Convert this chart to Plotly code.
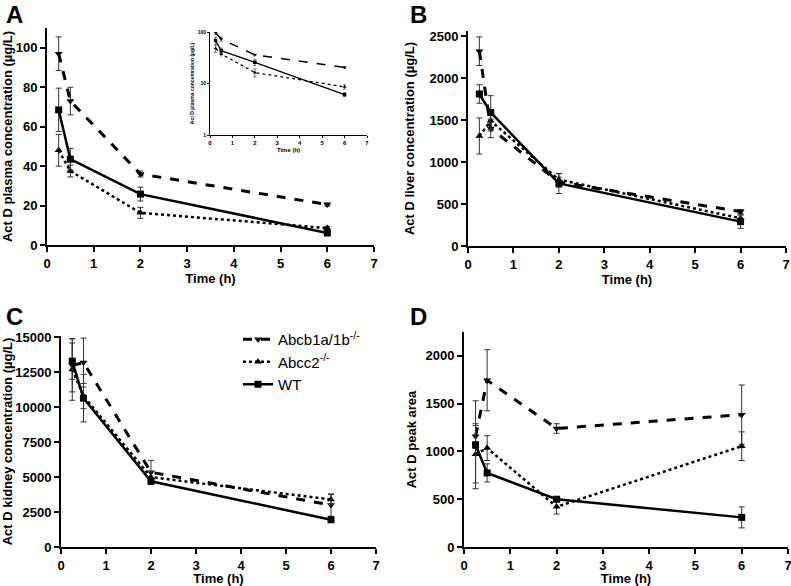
import plotly.graph_objects as go

W, H = 791, 586
FIG_W = 791
X_END = 7

time_h = [0.25, 0.5, 2, 6]
series_names = ["Abcb1a/1b<sup>-/-</sup>", "Abcc2<sup>-/-</sup>", "WT"]

plasma_abcb1 = [97, 73, 36, 20.5]
plasma_abcb1_err = [8.5, 7, 1.5, 0.8]
plasma_abcc2 = [48, 37.5, 16.3, 8.6]
plasma_abcc2_err = [8, 3, 2.8, 0.8]
plasma_wt = [68.5, 43.5, 25.8, 6.1]
plasma_wt_err = [11, 5.5, 3.5, 0.5]

liver_abcb1 = [2320, 1400, 760, 410]
liver_abcb1_err = [170, 110, 60, 25]
liver_abcc2 = [1310, 1490, 790, 330]
liver_abcc2_err = [215, 120, 70, 40]
liver_wt = [1810, 1590, 745, 290]
liver_wt_err = [110, 200, 120, 80]

kidney_abcb1 = [13000, 13200, 5350, 3000]
kidney_abcb1_err = [1900, 1750, 850, 800]
kidney_abcc2 = [12700, 10800, 5000, 3400]
kidney_abcc2_err = [2200, 900, 400, 350]
kidney_wt = [13300, 10650, 4700, 1950]
kidney_wt_err = [1300, 1700, 200, 100]

peak_abcb1 = [1160, 1745, 1240, 1385]
peak_abcb1_err = [130, 320, 50, 310]
peak_abcc2 = [970, 1035, 420, 1055]
peak_abcc2_err = [300, 130, 75, 150]
peak_wt = [1070, 775, 500, 310]
peak_wt_err = [460, 95, 20, 110]

plasma_ticks = [0, 20, 40, 60, 80, 100]
liver_ticks = [0, 500, 1000, 1500, 2000, 2500]
kidney_ticks = [0, 2500, 5000, 7500, 10000, 12500, 15000]
peak_ticks = [0, 500, 1000, 1500, 2000]
inset_ticks = [1, 10, 100]
time_ticks = [0, 1, 2, 3, 4, 5, 6, 7]

styles = [
    dict(dash="dash", symbol="triangle-down", width=3),
    dict(dash="dot", symbol="triangle-up", width=2.5),
    dict(dash="solid", symbol="square", width=2.5),
]

FONT = "Arial, Liberation Sans, sans-serif"

fig = go.Figure()

def add_panel(xa, ya, data, show_legend=False, scale=1.0, errw=3):
    for i, (vals, errs) in enumerate(data):
        st = styles[i]
        fig.add_trace(go.Scatter(
            x=time_h, y=vals, xaxis=xa, yaxis=ya,
            mode="lines+markers", name=series_names[i],
            showlegend=show_legend,
            line=dict(color="black", dash=st["dash"], width=st["width"] * scale),
            marker=dict(symbol=st["symbol"], size=7 * scale, color="black"),
            error_y=dict(type="data", array=errs, visible=True, color="#333",
                         thickness=1 * max(scale, 0.6), width=errw),
        ))

add_panel("x", "y", [(plasma_abcb1, plasma_abcb1_err), (plasma_abcc2, plasma_abcc2_err), (plasma_wt, plasma_wt_err)])
add_panel("x2", "y2", [(liver_abcb1, liver_abcb1_err), (liver_abcc2, liver_abcc2_err), (liver_wt, liver_wt_err)])
add_panel("x3", "y3", [(kidney_abcb1, kidney_abcb1_err), (kidney_abcc2, kidney_abcc2_err), (kidney_wt, kidney_wt_err)], show_legend=True)
add_panel("x4", "y4", [(peak_abcb1, peak_abcb1_err), (peak_abcc2, peak_abcc2_err), (peak_wt, peak_wt_err)])
add_panel("x5", "y5", [(plasma_abcb1, plasma_abcb1_err), (plasma_abcc2, plasma_abcc2_err), (plasma_wt, plasma_wt_err)], scale=0.5, errw=1.5)

def px_dom_x(a, b7):
    b = a + (b7 - a) * X_END / 7
    return [a / FIG_W, min(b / FIG_W, 1.0)]

def px_dom_y(top, bottom):
    return [1 - bottom / H, 1 - top / H]

def xaxis(dom, anchor, fs=13, tl=5, lw=2, standoff=4):
    return dict(domain=dom, anchor=anchor, range=[0, X_END], tickvals=time_ticks,
                ticktext=[str(v) for v in time_ticks],
                automargin=False, ticklabeloverflow="allow",
                showline=True, linecolor="black", linewidth=lw, ticks="outside",
                ticklen=tl, tickwidth=lw, tickcolor="black", showgrid=False, zeroline=False,
                tickfont=dict(family=FONT, size=fs, color="black", weight="bold"),
                title=dict(text="Time (h)", font=dict(family=FONT, size=fs, color="black", weight="bold"),
                           standoff=standoff))

def yaxis(dom, anchor, rng, tickvals, title, fs=13, standoff=6, tl=5, lw=2, log=False):
    d = dict(domain=dom, anchor=anchor, range=rng, tickvals=tickvals,
             ticktext=[str(v) for v in tickvals], automargin=False, ticklabeloverflow="allow",
             showline=True, linecolor="black", linewidth=lw, ticks="outside",
             ticklen=tl, tickwidth=lw, tickcolor="black", showgrid=False, zeroline=False,
             tickfont=dict(family=FONT, size=fs, color="black", weight="bold"),
             title=dict(text=title, font=dict(family=FONT, size=fs, color="black", weight="bold"),
                        standoff=standoff))
    if log:
        d["type"] = "log"
    return d

fig.update_layout(
    width=FIG_W, height=H, margin=dict(l=0, r=0, t=0, b=0),
    plot_bgcolor="white", paper_bgcolor="white",
    font=dict(family=FONT, color="black"),
    xaxis=xaxis(px_dom_x(47, 374), "y"),
    yaxis=yaxis(px_dom_y(28, 245), "x", [0, 110], plasma_ticks,
                "Act D plasma concentration (µg/L)", standoff=1),
    xaxis2=xaxis(px_dom_x(468, 786), "y2"),
    yaxis2=yaxis(px_dom_y(31, 246), "x2", [0, 2560], liver_ticks,
                 "Act D liver concentration (µg/L)", standoff=12),
    xaxis3=xaxis(px_dom_x(61, 376), "y3"),
    yaxis3=yaxis(px_dom_y(336, 547), "x3", [0, 15100], kidney_ticks,
                 "Act D kidney concentration (µg/L)", standoff=4),
    xaxis4=xaxis(px_dom_x(464, 788), "y4"),
    yaxis4=yaxis(px_dom_y(332, 547), "x4", [0, 2250], peak_ticks,
                 "Act D peak area", standoff=6),
    xaxis5=xaxis(px_dom_x(210, 367), "y5", fs=6, tl=2, lw=1, standoff=2),
    yaxis5=yaxis(px_dom_y(32, 135), "x5", [0, 2], inset_ticks,
                 "Act D plasma concentration (µg/L)", fs=5, standoff=2, tl=2, lw=1, log=True),
    legend=dict(x=238 / FIG_W, y=1 - 323 / H, xanchor="left", yanchor="top",
                font=dict(family=FONT, size=15, color="black"),
                bgcolor="rgba(0,0,0,0)", tracegroupgap=4, itemwidth=30),
)

for txt, x, y in [("A", 4, 14), ("B", 408, 14), ("C", 4, 316), ("D", 408, 316)]:
    fig.add_annotation(text="<b>%s</b>" % txt, x=x / FIG_W, y=1 - y / H, xref="paper", yref="paper",
                       xanchor="left", yanchor="middle", showarrow=False,
                       font=dict(family=FONT, size=24, color="black"))

css_js = (
    "var s=document.createElement('style');"
    "s.textContent='html,body{margin:0!important;padding:0!important;overflow:hidden!important;"
    "scrollbar-width:none;}::-webkit-scrollbar{display:none;width:0;height:0;}';"
    "document.head.appendChild(s);window.scrollTo(0,0);"
)

fig.write_html("out.html", config={"displayModeBar": False}, post_script=css_js)
